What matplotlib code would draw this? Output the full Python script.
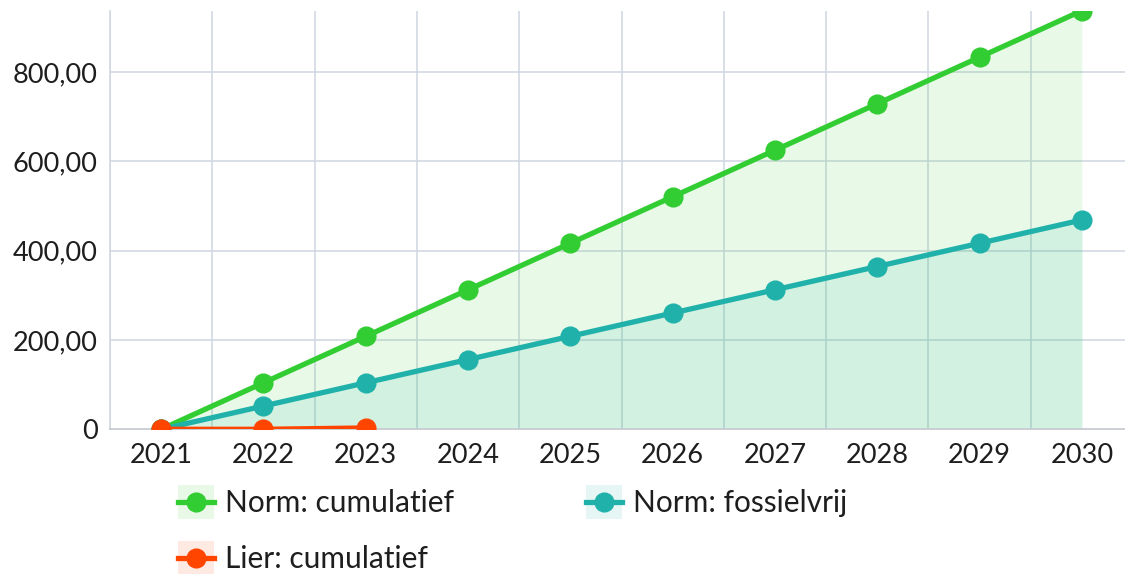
import matplotlib
matplotlib.use("Agg")
import matplotlib.pyplot as plt
from matplotlib.patches import Rectangle
from matplotlib.lines import Line2D

years = ["2021", "2022", "2023", "2024", "2025", "2026", "2027", "2028", "2029", "2030"]
norm_cumulatief = [0, 104.2, 208.3, 312.5, 416.7, 520.8, 625.0, 729.2, 833.3, 937.5]
norm_fossielvrij = [0, 52.1, 104.2, 156.3, 208.3, 260.4, 312.5, 364.6, 416.7, 468.8]
lier_cumulatief = [0, 0, 3]
y_ticks = [0, 200, 400, 600, 800]
y_tick_labels = ["0", "200,00", "400,00", "600,00", "800,00"]

GREEN = "#32CD32"
TEAL = "#20B2AA"
RED = "#FF4500"
GRID = "#cfd6e0"
TXT = "#1e1e1e"

plt.rcParams['font.family'] = ['Lato', 'DejaVu Sans']

W, H = 1125, 574
fig = plt.figure(figsize=(W / 100, H / 100), dpi=100)
ax = fig.add_axes([110 / W, 1 - 429.3 / H, 1023 / W, (429.3 - 10.7) / H])

x = list(range(len(years)))
ax.set_xlim(-0.5, len(years) - 0.5)
ax.set_ylim(0, 937.5)

# grid
for b in [i - 0.5 for i in range(len(years) + 1)]:
    ax.axvline(b, color=GRID, lw=1.1, zorder=0)
for t in y_ticks[1:]:
    ax.axhline(t, color=GRID, lw=1.1, zorder=0)

# fills
ax.fill_between(x, norm_cumulatief, 0, color=GREEN, alpha=0.11, lw=0, zorder=1)
ax.fill_between(x, norm_fossielvrij, 0, color=TEAL, alpha=0.11, lw=0, zorder=1)
ax.fill_between(x[:len(lier_cumulatief)], lier_cumulatief, 0, color=RED, alpha=0.11, lw=0, zorder=1)

ax.plot(x, norm_cumulatief, color=GREEN, lw=3.8, marker="o", ms=13.5, zorder=3, clip_on=True)
ax.plot(x, norm_fossielvrij, color=TEAL, lw=3.8, marker="o", ms=13.5, zorder=4, clip_on=True)
ax.plot(x[:len(lier_cumulatief)], lier_cumulatief, color=RED, lw=3.8, marker="o", ms=13.5,
        zorder=5, clip_on=True)

for s in ["top", "right"]:
    ax.spines[s].set_visible(False)
ax.spines["left"].set_color(GRID)
ax.spines["bottom"].set_color("#c8ccd2")
ax.spines["left"].set_linewidth(1.1)
ax.spines["bottom"].set_linewidth(1.3)

ax.set_xticks(x)
ax.set_xticklabels(years)
ax.set_yticks(y_ticks)
ax.set_yticklabels(y_tick_labels)
ax.tick_params(axis="both", length=0, labelsize=19.5, colors=TXT)
ax.tick_params(axis="x", pad=10)
ax.tick_params(axis="y", pad=9)

# legend drawn in pixel coordinates
lax = fig.add_axes([0, 0, 1, 1])
lax.set_xlim(0, W)
lax.set_ylim(H, 0)
lax.axis("off")
legend_items = [
    ("Norm: cumulatief", GREEN, 178, 502),
    ("Norm: fossielvrij", TEAL, 586, 502),
    ("Lier: cumulatief", RED, 178, 558),
]
for label, col, lx, ly in legend_items:
    lax.add_patch(Rectangle((lx, ly - 17), 36, 34, facecolor=col, alpha=0.11, lw=0))
    lax.add_line(Line2D([lx, lx + 36], [ly, ly], color=col, lw=3.8))
    lax.plot([lx + 18], [ly], marker="o", ms=13.5, color=col)
    lax.text(lx + 47, ly + 1, label, fontsize=21.5, color=TXT, va="center", ha="left")

fig.savefig("out.png", dpi=100)
